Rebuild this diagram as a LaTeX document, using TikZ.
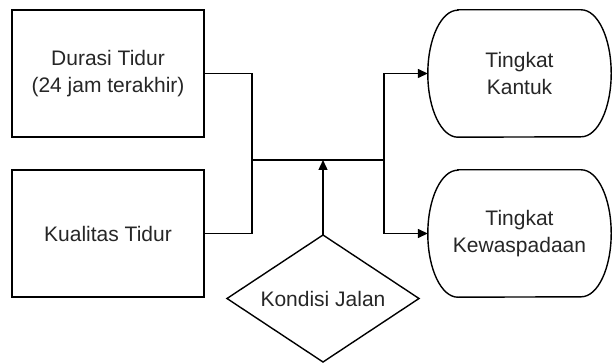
\documentclass[tikz,border=0pt]{standalone}
\usepackage{fontspec}
\setmainfont{Liberation Sans}
\usetikzlibrary{shapes.geometric,arrows.meta}
\begin{document}
\begin{tikzpicture}[x=1pt,y=-1pt,
  every node/.style={font=\fontsize{21}{27}\selectfont, align=center, text=black!85},
  box/.style={draw, line width=1.4pt, rectangle, minimum width=192pt, minimum height=127pt, inner sep=0pt},
  term/.style={rectangle, minimum width=183pt, minimum height=127pt, inner sep=0pt},
  dec/.style={draw, line width=1.4pt, diamond, aspect=1.51, minimum width=192pt, minimum height=127pt, inner sep=0pt, outer sep=0pt},
  conn/.style={line width=1.4pt},
  arr/.style={line width=1.4pt, -{Triangle[length=10pt,width=9pt]}}]
\useasboundingbox (0,0) rectangle (612,363);
\node[box] (dur) at (108,73.5) {Durasi Tidur\\(24 jam terakhir)};
\node[box] (kual) at (108,233.5) {Kualitas Tidur};
\node[term] (kant) at (519.5,73.5) {Tingkat\\Kantuk};
\node[term] (wasp) at (519.5,233.5) {Tingkat\\Kewaspadaan};
\foreach \n in {kant,wasp}{
  \draw[line width=1.4pt] ([xshift=30pt]\n.north west) -- ([xshift=-30pt]\n.north east)
    arc[start angle=90,end angle=-90,x radius=30pt,y radius=63.5pt]
    -- ([xshift=30pt]\n.south west)
    arc[start angle=270,end angle=90,x radius=30pt,y radius=63.5pt] -- cycle;
}
\node[dec] (kond) at (323,298.5) {Kondisi Jalan};
\coordinate (jl) at (252,160);
\coordinate (jr) at (384,160);
\coordinate (jm) at (323,160);
\draw[conn] (dur.east) -| (jl) |- (kual.east);
\draw[conn] (jl) -- (jr);
\draw[conn] (jr) |- (kant.west);
\draw[arr] (jr |- kant.west) -- (kant.west);
\draw[conn] (jr) |- (wasp.west);
\draw[arr] (jr |- wasp.west) -- (wasp.west);
\draw[arr] (kond.north) -- (jm);
\end{tikzpicture}
\end{document}
